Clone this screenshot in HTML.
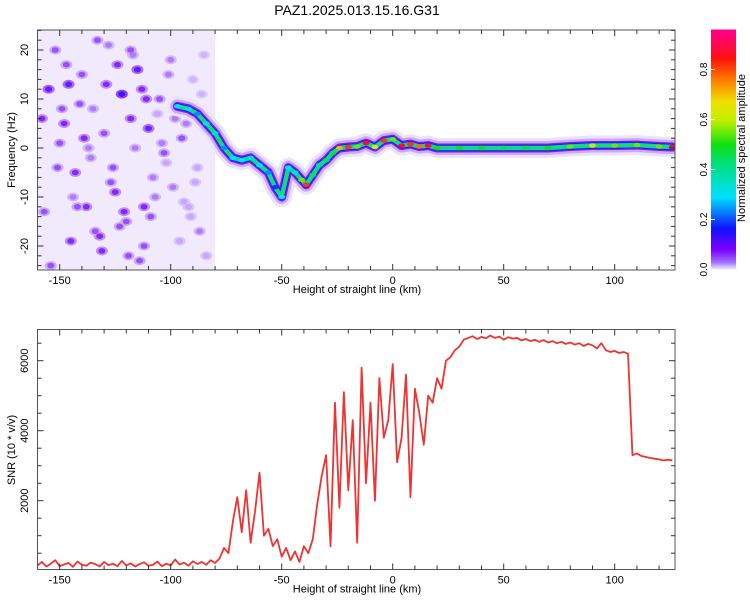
<!DOCTYPE html>
<html><head><meta charset="utf-8"><style>
body{margin:0;background:#fff;}
svg text{font-family:"Liberation Sans",sans-serif;fill:#000;}
</style></head><body>
<svg id="s" width="750" height="600" xmlns="http://www.w3.org/2000/svg">
<defs>
<linearGradient id="cb" x1="0" y1="1" x2="0" y2="0">
<stop offset="0" stop-color="#f4eefc"/><stop offset="0.03" stop-color="#a070ff"/>
<stop offset="0.08" stop-color="#8000ff"/><stop offset="0.17" stop-color="#1010ff"/>
<stop offset="0.3" stop-color="#00e0ff"/><stop offset="0.45" stop-color="#00e070"/>
<stop offset="0.52" stop-color="#10e010"/><stop offset="0.62" stop-color="#c0f000"/>
<stop offset="0.7" stop-color="#f0e000"/><stop offset="0.8" stop-color="#ff7000"/>
<stop offset="0.88" stop-color="#ff1010"/><stop offset="1" stop-color="#ff0090"/>
</linearGradient>
<clipPath id="ctop"><rect x="37.5" y="30" width="637.5" height="240"/></clipPath>
<clipPath id="cbot"><rect x="37.5" y="329.5" width="637.5" height="240"/></clipPath>
</defs>
<text x="357" y="15" font-size="14" text-anchor="middle">PAZ1.2025.013.15.16.G31</text>
<g id="topPanel"></g>
<g id="botPanel"></g>
<g id="cbar">
<rect x="711" y="29.5" width="25" height="240" fill="url(#cb)"/>
<text transform="translate(745,148) rotate(-90)" font-size="11" text-anchor="middle">Normalized spectral amplitude</text>
</g>
</svg>
<script>
// ---- data ----
const snrStartKm = -160, snrStepKm = 2;
const snrValues = [150,250,120,200,300,130,180,220,110,260,170,140,230,190,120,250,160,200,130,280,150,210,120,190,240,140,170,260,130,200,150,320,180,230,140,270,190,250,170,300,220,350,
650,500,1400,2100,1100,2300,800,1700,2800,1000,
1200,700,900,400,650,300,550,250,700,500,900,
1900,2700,3300,700,4800,1800,5100,2300,
4300,800,5800,2500,4800,2000,5500,3800,4300,
5900,3100,3800,5600,2100,5200,4500,3600,5000,4800,
5500,5200,6000,6100,6300,6400,6600,6650,
6700,6620,6680,6640,6720,6650,6690,6600,6670,6630,6650,6580,6620,6560,6600,6540,6590,6520,6560,6500,6540,6480,6520,6460,6500,6420,6480,6440,6350,6500,
6300,6250,6280,6220,6250,6200,
3300,3350,3280,3250,3220,3200,3180,3150,3170,3150];
const ridgeKm   = [-97,-92,-88,-84,-80,-76,-72,-68,-64,-60,-56,-53,-50,-47,-44,-41,-39,-36,-33,-30,-27,-24,-20,-16,-12,-8,-4,0,4,8,12,16,20,30,40,50,60,70,80,90,100,110,120,126];
const ridgeFreq = [8.5,8,7,5,3,0,-2,-2.5,-2,-3.5,-5,-8,-10,-4,-5,-6.5,-7.5,-5.5,-3.5,-2.5,-1,0,0.2,0.3,1,0.2,1.5,1.8,0.5,0.8,0.3,0.5,0,0,0,0,0,0,0.3,0.5,0.5,0.6,0.3,0.2];
const ridgeAmp  = [0.3,0.3,0.25,0.3,0.35,0.25,0.3,0.3,0.35,0.3,0.25,0.2,0.3,0.3,0.35,0.6,0.85,0.45,0.4,0.45,0.5,0.75,0.85,0.6,0.9,0.7,0.85,0.6,0.9,0.85,0.8,0.9,0.55,0.55,0.55,0.5,0.5,0.55,0.6,0.65,0.6,0.6,0.6,0.9];
const noiseKm   = [-155,-152,-148,-146,-143,-140,-138,-135,-132,-130,-128,-125,-122,-120,-118,-115,-112,-110,-108,-105,-102,-100,-97,-94,-90,-87,-84,-157,-150,-145,-141,-136,-133,-127,-124,-119,-116,-113,-109,-106,-103,-99,-95,-92,-88,-85,-154,-149,-144,-139,-134,-129,-126,-121,-117,-114,-111,-107,-104,-101,-96,-93,-89,-86,-158,-151,-147,-142,-137,-131,-123,-118,-112,-98,-91];
const noiseFreq = [12,20,5,13,-5,15,-12,8,-18,3,21,-9,11,-15,6,16,-20,4,-6,10,-3,18,9,-11,14,-17,-22,-13,1,-19,9,-2,22,-7,17,-22,0,12,-14,7,-1,-8,2,-12,-4,19,-24,8,-10,2,-17,13,-4,-13,19,-23,10,-10,1,15,-19,5,-7,11,6,-4,17,-12,0,-21,-16,20,-12,6,-14];
const noiseAmp  = [0.15,0.1,0.12,0.15,0.12,0.1,0.12,0.08,0.12,0.1,0.08,0.12,0.18,0.1,0.12,0.15,0.1,0.14,0.08,0.1,0.06,0.08,0.12,0.06,0.05,0.08,0.06,0.1,0.1,0.12,0.1,0.08,0.1,0.1,0.12,0.1,0.08,0.12,0.1,0.06,0.1,0.08,0.1,0.06,0.06,0.05,0.1,0.1,0.08,0.12,0.1,0.12,0.1,0.12,0.08,0.1,0.12,0.08,0.08,0.08,0.06,0.08,0.06,0.05,0.12,0.1,0.1,0.1,0.08,0.12,0.1,0.1,0.12,0.08,0.06];
const xTicks = [-150,-100,-50,0,50,100];
const fTicks = [-20,-10,0,10,20];
const snrTicks = [2000,4000,6000];
const cbTicks = [0.0,0.2,0.4,0.6,0.8];
// ---- scales ----
const xs = v => 37.5 + (v + 160) * 2.22;
const fy = f => 148 - 4.9 * f;
const sy = s => 570.7 - 0.035 * s;
const cy = a => 269.5 - 250 * a;
const NS = 'http://www.w3.org/2000/svg';
function mk(p, tag, at) { const e = document.createElementNS(NS, tag); for (const k in at) e.setAttribute(k, at[k]); p.appendChild(e); return e; }
function col(a) {
  const st = [[0,[244,238,252]],[0.05,[200,170,250]],[0.1,[140,40,240]],[0.18,[16,16,255]],[0.3,[0,224,255]],[0.45,[0,224,112]],[0.55,[16,224,16]],[0.65,[192,240,0]],[0.72,[240,224,0]],[0.8,[255,112,0]],[0.88,[255,16,16]],[1,[255,0,144]]];
  for (let i = 1; i < st.length; i++) if (a <= st[i][0]) { const t = (a - st[i-1][0]) / (st[i][0] - st[i-1][0]); const c = st[i-1][1].map((v, j) => Math.round(v + (st[i][1][j] - v) * t)); return `rgb(${c})`; }
  return 'rgb(255,0,144)';
}
const topG = document.getElementById('topPanel'), botG = document.getElementById('botPanel');
// ---- spectrogram ----
const tg = mk(topG, 'g', {'clip-path': 'url(#ctop)'});
mk(tg, 'rect', {x: xs(-160), y: 30, width: xs(-80) - xs(-160), height: 240, fill: '#eee4fb', opacity: 0.8});
noiseKm.forEach((k, i) => {
  const e = mk(tg, 'ellipse', {cx: xs(k), cy: fy(noiseFreq[i]), rx: 6, ry: 4.5, fill: col(noiseAmp[i] * 0.5)});
  
  
});
noiseKm.forEach((k, i) => {
  const e = mk(tg, 'ellipse', {cx: xs(k), cy: fy(noiseFreq[i]), rx: 3.5, ry: 2.8, fill: col(noiseAmp[i] * 0.85)});
  
  
});
const pts = ridgeKm.map((k, i) => `${xs(k)},${fy(ridgeFreq[i])}`).join(' ');
[[20,'#ece2fb'],[14,'#c8aaf6'],[9,'#8a18ee'],[6.5,'#1c1cf0'],[4.5,'#00c8f0'],[2.5,'#20e040']].forEach(([w, c]) => {
  const e = mk(tg, 'polyline', {points: pts, fill: 'none', stroke: c, 'stroke-width': w, 'stroke-linejoin': 'round', 'stroke-linecap': 'round'});
  
  
});
ridgeKm.forEach((k, i) => {
  const e = mk(tg, 'ellipse', {cx: xs(k), cy: fy(ridgeFreq[i]), rx: 3.5, ry: 2.2, fill: col(ridgeAmp[i])});
  
  
});
// ---- axes helper ----
function frame(p, y0, y1, name) {
  const r = mk(p, 'rect', {x: 37.5, y: y0, width: 637.5, height: y1 - y0, fill: 'none', stroke: '#555', 'stroke-width': 1});
  
  
  for (let v = -150; v <= 120; v += 10) {
    const X = xs(v), L = v % 50 === 0 ? 6 : 4;
    mk(p, 'line', {x1: X, x2: X, y1: y1, y2: y1 - L, stroke: '#333'});
    mk(p, 'line', {x1: X, x2: X, y1: y0, y2: y0 + L, stroke: '#333'});
  }
  xTicks.forEach(v => {
    const t = mk(p, 'text', {x: xs(v), y: y1 + 14, 'font-size': 11, 'text-anchor': 'middle'}); t.textContent = v;
    
    
  });
  const xl = mk(p, 'text', {x: 357, y: y1 + 23, 'font-size': 11, 'text-anchor': 'middle'}); xl.textContent = 'Height of straight line (km)';
  
  
}
frame(topG, 30, 270, 'spectrogram-frame');
for (let f = -24; f <= 24; f += 2) {
  const Y = fy(f), L = f % 10 === 0 ? 6 : 4;
  mk(topG, 'line', {x1: 37.5, x2: 37.5 + L, y1: Y, y2: Y, stroke: '#333'});
  mk(topG, 'line', {x1: 675, x2: 675 - L, y1: Y, y2: Y, stroke: '#333'});
}
fTicks.forEach(f => {
  const t = mk(topG, 'text', {transform: `translate(28,${fy(f)}) rotate(-90)`, 'font-size': 11, 'text-anchor': 'middle'}); t.textContent = f;
  
  
});
const yt = mk(topG, 'text', {transform: 'translate(15,150) rotate(-90)', 'font-size': 11, 'text-anchor': 'middle'}); yt.textContent = 'Frequency (Hz)';


// ---- SNR ----
const bg = mk(botG, 'g', {'clip-path': 'url(#cbot)'});
const sp = snrValues.map((v, i) => `${xs(snrStartKm + i * snrStepKm)},${sy(v)}`).join(' ');
const ln = mk(bg, 'polyline', {points: sp, fill: 'none', stroke: '#ee3333', 'stroke-width': 1.8, 'stroke-linejoin': 'round'});


frame(botG, 329.5, 569.5, 'snr-frame');
for (let s = 500; s <= 6500; s += 500) {
  const Y = sy(s), L = s % 2000 === 0 ? 6 : 4;
  mk(botG, 'line', {x1: 37.5, x2: 37.5 + L, y1: Y, y2: Y, stroke: '#333'});
  mk(botG, 'line', {x1: 675, x2: 675 - L, y1: Y, y2: Y, stroke: '#333'});
}
snrTicks.forEach(s => {
  const t = mk(botG, 'text', {transform: `translate(28,${sy(s)}) rotate(-90)`, 'font-size': 11, 'text-anchor': 'middle'}); t.textContent = s;
  
  
});
const yb = mk(botG, 'text', {transform: 'translate(15,450) rotate(-90)', 'font-size': 11, 'text-anchor': 'middle'}); yb.textContent = 'SNR (10 * v/v)';


// ---- colorbar ticks ----
const cbar = document.getElementById('cbar');
cbTicks.forEach(a => {
  const t = mk(cbar, 'text', {transform: `translate(707,${cy(a)}) rotate(-90)`, 'font-size': 10, 'text-anchor': 'middle'}); t.textContent = a.toFixed(1);
  
  
  mk(cbar, 'line', {x1: 711, x2: 715, y1: cy(a), y2: cy(a), stroke: '#fff'});
});
</script>
</body></html>
